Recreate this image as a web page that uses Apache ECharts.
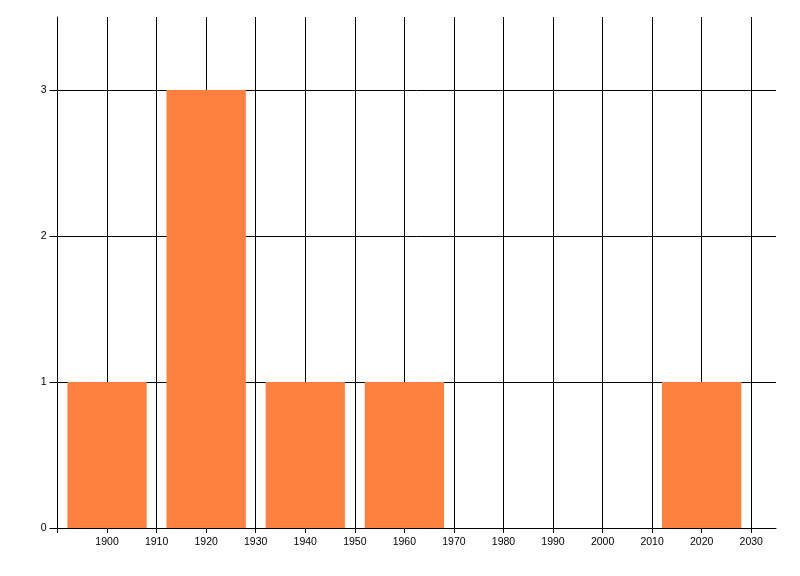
<!DOCTYPE html>
<html>
<head>
    <meta charset="utf-8">
    <script src="https://cdn.jsdelivr.net/npm/echarts@6/dist/echarts.min.js"></script>
    <title>histogram</title>
    <style>
        html, body { margin: 0; padding: 0; background: #fff; }
        #container { width: 800px; height: 576px; }
    </style>
</head>
<body>
<div id="container"></div>
<script type="text/javascript">
    // bin centres (years) and counts
    var binCenters = [1900, 1920, 1940, 1960, 1980, 2000, 2020];
    var counts = [1, 3, 1, 1, 0, 0, 1];
    var barSpan = 16; // years covered by each bar

    var xTicks = [1890, 1900, 1910, 1920, 1930, 1940, 1950, 1960, 1970, 1980, 1990, 2000, 2010, 2020, 2030];
    var xLabels = [1900, 1910, 1920, 1930, 1940, 1950, 1960, 1970, 1980, 1990, 2000, 2010, 2020, 2030];
    var yTicks = [0, 1, 2, 3];

    var data = [];
    for (var i = 0; i < binCenters.length; i++) {
        if (counts[i] > 0) data.push([binCenters[i], counts[i]]);
    }

    var mychart = echarts.init(document.getElementById('container'));
    var fontName = 'Liberation Sans';

    var options = {
        animation: false,
        grid: { left: 57.5, right: 24, top: 17, bottom: 48, containLabel: false },
        xAxis: {
            type: 'value',
            min: 1890,
            max: 2035,
            interval: 10,
            axisLine: { show: true, lineStyle: { color: '#000', width: 1 } },
            axisTick: { show: true, length: 5, customValues: xTicks, lineStyle: { color: '#000' } },
            axisLabel: {
                customValues: xLabels,
                formatter: function (v) { return String(v); },
                color: '#000', fontFamily: fontName, fontSize: 10.5, margin: 9
            },
            splitLine: { show: true, lineStyle: { color: '#000', width: 1 } }
        },
        yAxis: {
            type: 'value',
            min: 0,
            max: 3.5,
            interval: 1,
            axisLine: { show: true, lineStyle: { color: '#000', width: 1 } },
            axisTick: { show: true, length: 8, customValues: yTicks, lineStyle: { color: '#000' } },
            axisLabel: {
                customValues: yTicks,
                color: '#000', fontFamily: fontName, fontSize: 10.5, margin: 11
            },
            splitLine: { show: true, lineStyle: { color: '#000', width: 1 } }
        },
        series: [{
            type: 'custom',
            data: data,
            encode: { x: 0, y: 1 },
            renderItem: function (params, api) {
                var c = api.value(0), v = api.value(1);
                var p0 = api.coord([c - barSpan / 2, v]);
                var p1 = api.coord([c + barSpan / 2, 0]);
                return {
                    type: 'rect',
                    shape: { x: p0[0], y: p0[1], width: p1[0] - p0[0], height: p1[1] - p0[1] },
                    style: { fill: '#FF8040' }
                };
            }
        }]
    };
    mychart.setOption(options);
</script>
</body>
</html>
